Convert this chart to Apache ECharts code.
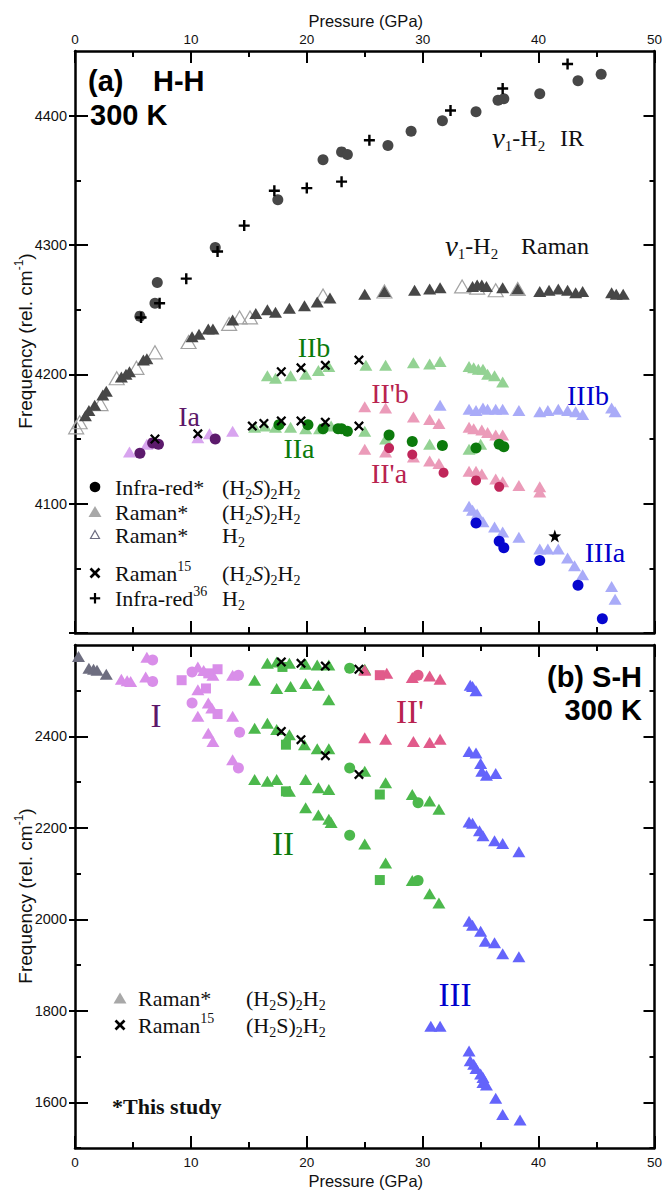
<!DOCTYPE html>
<html>
<head>
<meta charset="utf-8">
<script src="https://cdn.jsdelivr.net/npm/echarts@6/dist/echarts.min.js"></script>
<style>
  html, body { margin: 0; padding: 0; background: #fff; }
  #chart { width: 665px; height: 1190px; }
</style>
</head>
<body>
<div id="chart"></div>
<script>
// ---------- Panel (a): H-H stretching region, [pressure GPa, frequency cm-1] ----------
const nu1IrSample = [[5.6,4245],[6.9,4255],[7.1,4271],[12.1,4298],[17.5,4335],[21.4,4366],[23.0,4372],[23.5,4370],[27.0,4377],[29.0,4388],[31.7,4396],[34.6,4403],[36.5,4412],[37.0,4413],[40.1,4417],[43.4,4427],[45.4,4432]];
const nu1IrRef36 = [[5.7,4244],[7.3,4255],[9.6,4274],[12.3,4295],[14.6,4315],[17.2,4342],[20.0,4344],[23.0,4349],[25.4,4381],[32.4,4404],[36.9,4421],[42.5,4440]];
const nu1RamanSample = [[0.9,4168],[1.2,4172],[1.7,4176],[2.4,4184],[2.7,4187],[4.0,4198],[4.4,4200],[4.7,4202],[5.9,4211],[6.2,4212],[10.1,4229],[10.7,4231],[11.5,4235],[11.9,4235],[13.6,4242],[15.6,4247],[16.6,4250],[17.3,4248],[18.5,4251],[19.8,4253],[20.9,4256],[22.0,4259],[25.0,4262],[26.7,4264],[29.3,4265],[30.6,4266],[31.5,4267],[34.3,4268],[34.7,4269],[35.1,4269],[35.5,4268],[36.9,4267],[38.2,4266],[40.1,4264],[40.9,4265],[41.7,4266],[42.5,4265],[43.2,4263],[43.8,4264],[46.3,4263],[46.7,4262],[47.3,4262]];
const nu1RamanPureH2 = [[0.1,4159],[0.4,4163],[2.2,4177],[3.6,4197],[5.3,4205],[6.9,4217],[9.8,4225],[13.3,4239],[14.2,4244],[15.1,4244],[21.4,4261],[26.7,4264],[33.4,4268],[34.7,4267],[36.3,4265],[38.2,4266]];
const IaRaman = [[4.7,4140],[6.2,4146],[6.6,4147],[10.6,4151],[11.6,4154],[13.6,4156]];
const IaIr = [[5.6,4139],[6.7,4147],[7.2,4146],[12.1,4150]];
const IIbRaman = [[16.6,4199],[17.3,4197],[18.6,4199],[19.9,4200],[21.0,4203],[21.9,4206],[25.1,4207],[26.8,4207],[29.2,4209],[30.6,4208],[31.5,4210],[34.0,4206],[34.4,4205],[34.8,4204],[35.2,4204],[35.6,4200],[36.2,4199],[36.9,4194]];
const IIaRaman = [[15.5,4159],[16.4,4160],[17.3,4159],[18.6,4159],[19.9,4158],[21.1,4158],[22.1,4160],[25.0,4156],[26.8,4150],[30.6,4146],[34.0,4142],[35.0,4146]];
const IIaIr = [[17.6,4161],[20.1,4161],[21.4,4158],[22.7,4158],[23.0,4158],[23.5,4156],[27.1,4153],[29.1,4148],[31.7,4145],[34.6,4143],[36.6,4146],[37.0,4144]];
const IIpbRaman = [[25.0,4175],[26.8,4174],[29.2,4167],[30.6,4165],[31.4,4162],[34.0,4159],[34.4,4158],[35.1,4157],[35.6,4155],[36.3,4153],[36.9,4153]];
const IIpaRaman = [[25.0,4142],[26.8,4140],[29.2,4136],[30.6,4133],[31.4,4131],[34.0,4125],[34.6,4125],[35.1,4123],[36.3,4119],[36.9,4117],[38.3,4114],[40.1,4113],[40.1,4109]];
const IIpaIr = [[27.1,4143],[29.1,4138],[31.8,4124],[34.6,4118],[36.6,4113]];
const IIIbRaman = [[31.5,4176],[34.0,4173],[34.6,4172],[35.2,4174],[35.6,4173],[36.3,4173],[36.9,4173],[38.3,4172],[40.1,4171],[40.8,4172],[41.7,4173],[42.5,4172],[43.2,4171],[43.8,4169],[46.3,4174],[46.6,4171]];
const IIIaRaman = [[34.0,4098],[34.3,4095],[34.7,4092],[35.2,4086],[36.2,4082],[36.9,4078],[38.3,4074],[40.1,4065],[40.8,4065],[41.7,4065],[42.5,4058],[43.1,4052],[43.8,4045],[46.3,4036],[46.6,4026]];
const IIIaIr = [[34.6,4085],[36.6,4071],[37.0,4066],[40.1,4056],[43.4,4037],[45.5,4011]];
const IIIaStar = [[41.4,4075]];
const raman15HH = [[6.9,4150],[10.6,4154],[15.3,4160],[16.3,4162],[17.8,4164],[19.5,4164],[21.6,4163],[24.5,4160],[17.8,4202],[19.5,4205],[21.6,4207],[24.5,4211]];

// ---------- Panel (b): S-H stretching region ----------
const lowPRaman = [[0.3,2575],[1.2,2549],[1.6,2547],[1.9,2545],[2.7,2536]];
const IRamanTri = [[4.0,2525],[4.5,2522],[4.8,2520],[6.2,2573],[6.1,2530],[10.6,2552],[11.1,2544],[11.9,2534],[10.6,2502],[11.5,2473],[11.8,2462],[10.6,2444],[13.6,2444],[11.5,2407],[11.9,2389],[13.6,2349],[13.6,2534]];
const IRamanCirc = [[6.7,2567],[6.7,2520],[10.1,2541],[10.1,2473],[14.1,2534],[14.2,2409],[14.1,2331]];
const IRamanSq = [[9.2,2523],[11.3,2505],[12.3,2547],[12.3,2449],[11.5,2538]];
const IIRamanTri = [[16.6,2560],[17.4,2563],[18.5,2560],[19.9,2558],[20.9,2556],[21.9,2556],[25.0,2547],
  [15.5,2523],[17.4,2505],[18.6,2509],[19.9,2516],[21.0,2512],[21.9,2480],
  [15.5,2418],[16.6,2429],[17.4,2415],[18.5,2404],[19.8,2382],[20.9,2373],[21.9,2373],[25.0,2324],[26.8,2299],
  [15.5,2306],[16.6,2302],[17.4,2306],[18.5,2280],[19.9,2306],[21.0,2288],[21.9,2284],[29.1,2273],[30.6,2259],[31.4,2241],
  [19.9,2244],[21.0,2228],[21.9,2219],[22.1,2212],[25.0,2165],[26.8,2123],[29.1,2085],[30.6,2056],[31.4,2036]];
const IIRamanCirc = [[23.7,2549],[23.7,2331],[29.6,2255],[23.7,2184],[29.6,2085]];
const IIRamanSq = [[17.9,2552],[18.2,2382],[18.2,2280],[26.3,2273],[26.3,2086]];
const IIpRamanTri = [[25.0,2545],[26.9,2538],[29.1,2529],[30.6,2532],[31.5,2525],[25.0,2397],[26.8,2394],[29.2,2389],[30.6,2387],[31.5,2394]];
const IIpRamanSq = [[26.3,2534]];
const IIpRamanCirc = [[29.6,2534]];
const IIIRamanTri = [[34.1,2512],[34.3,2509],[34.6,2500],[34.0,2367],[34.6,2364],[35.0,2341],[35.1,2324],[35.5,2315],[36.3,2319],
  [34.0,2213],[34.3,2210],[34.9,2194],[35.2,2183],[36.2,2172],[36.9,2166],[38.3,2148],
  [34.0,1996],[34.3,1987],[35.0,1974],[35.4,1952],[36.2,1949],[36.9,1925],[38.3,1918],
  [30.7,1766],[31.5,1766],[34.0,1712],[34.1,1691],[34.4,1683],[34.6,1674],[35.0,1662],[35.2,1654],[35.2,1643],[35.5,1638],[36.3,1609],[36.9,1573],[38.4,1561]];
const raman15SH = [[17.8,2563],[19.5,2560],[21.6,2554],[24.5,2547],[17.8,2411],[19.5,2393],[21.6,2358],[24.5,2317]];

// ---------- axis ranges and tick positions ----------
const pressureRange = [0, 50];
const hhRange = [4000, 4450];
const hhMajor = [4000, 4100, 4200, 4300, 4400];
const hhLabels = [4100, 4200, 4300, 4400];
const hhMinor = [4050, 4150, 4250, 4350];
const shRange = [1500, 2600];
const shMajor = [1600, 1800, 2000, 2200, 2400];
const shLabels = [1600, 1800, 2000, 2200, 2400];
const shMinor = [1500, 1700, 1900, 2100, 2300, 2500];

const SANS = 'Liberation Sans';
const SERIF = 'Liberation Serif';
const INK = '#000';

const CROSS = 'path://M0,1.6L1.6,0L5,3.4L8.4,0L10,1.6L6.6,5L10,8.4L8.4,10L5,6.6L1.6,10L0,8.4L3.4,5Z';
const PLUS = 'path://M3.9,0H6.1V3.9H10V6.1H6.1V10H3.9V6.1H0V3.9H3.9Z';
const STAR = 'path://M10,0L12.35,6.76L19.51,6.91L13.8,11.24L15.88,18.09L10,14L4.12,18.09L6.2,11.24L0.49,6.91L7.65,6.76Z';

const plainNumber = function (v) { return String(v); };

function xAxisDef(grid, position, withLabels) {
  return {
    type: 'value', gridIndex: grid, position: position,
    min: pressureRange[0], max: pressureRange[1], interval: 10,
    axisLine: { show: true, onZero: false, lineStyle: { color: INK, width: 2.5 } },
    axisTick: { show: true, inside: true, length: 12, lineStyle: { color: INK, width: 2 } },
    minorTick: { show: true, splitNumber: 2, length: 6, lineStyle: { color: INK, width: 2 } },
    axisLabel: { show: withLabels, margin: position === 'top' ? 5 : 7, color: '#111',
      fontFamily: SANS, fontSize: 13.5, formatter: plainNumber },
    splitLine: { show: false }
  };
}

function yAxisDef(grid, position, range, opts) {
  const ax = {
    type: 'value', gridIndex: grid, position: position,
    min: range[0], max: range[1],
    axisLine: { show: !!opts.line, onZero: false, lineStyle: { color: INK, width: 2.5 } },
    axisTick: { show: true, inside: !!opts.inside, length: opts.len, customValues: opts.ticks,
      lineStyle: { color: INK, width: 2 } },
    axisLabel: { show: false },
    splitLine: { show: false }
  };
  if (opts.labels) {
    ax.axisLabel = { show: true, customValues: opts.labels, margin: 8, color: '#111',
      fontFamily: SANS, fontSize: 14.5, formatter: plainNumber };
  }
  return ax;
}

const xAxes = [
  xAxisDef(0, 'top', true),
  xAxisDef(0, 'bottom', false),
  xAxisDef(1, 'top', false),
  xAxisDef(1, 'bottom', true)
];
const yAxes = [
  yAxisDef(0, 'left', hhRange, { line: true, inside: true, len: 13, ticks: hhMajor, labels: hhLabels }),
  yAxisDef(0, 'left', hhRange, { inside: false, len: 6, ticks: hhMajor }),
  yAxisDef(0, 'left', hhRange, { inside: true, len: 6, ticks: hhMinor }),
  yAxisDef(0, 'right', hhRange, { line: true, inside: true, len: 11, ticks: hhMajor }),
  yAxisDef(0, 'right', hhRange, { inside: true, len: 5, ticks: hhMinor }),
  yAxisDef(1, 'left', shRange, { line: true, inside: true, len: 13, ticks: shMajor, labels: shLabels }),
  yAxisDef(1, 'left', shRange, { inside: false, len: 6, ticks: shMajor }),
  yAxisDef(1, 'left', shRange, { inside: true, len: 6, ticks: shMinor }),
  yAxisDef(1, 'right', shRange, { line: true, inside: true, len: 11, ticks: shMajor }),
  yAxisDef(1, 'right', shRange, { inside: true, len: 5, ticks: shMinor })
];

const TRI = [13, 11];
function pts(panel, data, symbol, size, color, z, extraStyle) {
  return {
    type: 'scatter', xAxisIndex: panel === 0 ? 1 : 3, yAxisIndex: panel === 0 ? 0 : 5,
    data: data, symbol: symbol, symbolSize: size, z: z, silent: true,
    itemStyle: Object.assign({ color: color, opacity: 1 }, extraStyle || {})
  };
}

const C = {
  dark: '#474747', openEdge: '#a3a3a3',
  violetLight: '#d8a4ef', purple: '#5c1a6c',
  greenLight: '#93d293', green: '#0c7a0c',
  pinkLight: '#eb9bb9', crimson: '#c0265a',
  blueLight: '#a9abf8', blue: '#0606cf',
  greyB: '#6e6e80', violetB: '#d98ee9', greenB: '#4cb84c', pinkB: '#e15b8b', blueB: '#6464fb',
  labPurple: '#5c1769', labGreen: '#0b7a0b', labCrimson: '#b8234f', labBlue: '#0000cc'
};

const series = [
  // panel (a)
  pts(0, nu1RamanPureH2, 'triangle', [15, 13], 'rgba(0,0,0,0)', 2, { borderColor: C.openEdge, borderWidth: 1.2 }),
  pts(0, nu1RamanSample, 'triangle', TRI, C.dark, 3),
  pts(0, IaRaman, 'triangle', TRI, C.violetLight, 3),
  pts(0, IIbRaman, 'triangle', TRI, C.greenLight, 3),
  pts(0, IIaRaman, 'triangle', TRI, C.greenLight, 3),
  pts(0, IIpbRaman, 'triangle', TRI, C.pinkLight, 3),
  pts(0, IIpaRaman, 'triangle', TRI, C.pinkLight, 3),
  pts(0, IIIbRaman, 'triangle', TRI, C.blueLight, 3),
  pts(0, IIIaRaman, 'triangle', TRI, C.blueLight, 3),
  pts(0, nu1IrSample, 'circle', 11, C.dark, 4),
  pts(0, IaIr, 'circle', 11, C.purple, 4),
  pts(0, IIaIr, 'circle', 11, C.green, 4),
  pts(0, IIpaIr, 'circle', 10, C.crimson, 4),
  pts(0, IIIaIr, 'circle', 11, C.blue, 4),
  pts(0, IIIaStar, STAR, 13, '#000', 5),
  pts(0, raman15HH, CROSS, 10, '#000', 6),
  pts(0, nu1IrRef36, PLUS, 11, '#000', 6),
  // panel (b)
  pts(1, lowPRaman, 'triangle', TRI, C.greyB, 3),
  pts(1, IRamanTri, 'triangle', TRI, C.violetB, 3),
  pts(1, IRamanCirc, 'circle', 11, C.violetB, 3),
  pts(1, IRamanSq, 'rect', 10, C.violetB, 3),
  pts(1, IIRamanTri, 'triangle', TRI, C.greenB, 3),
  pts(1, IIRamanCirc, 'circle', 11, C.greenB, 3),
  pts(1, IIRamanSq, 'rect', 10, C.greenB, 3),
  pts(1, IIpRamanTri, 'triangle', TRI, C.pinkB, 3),
  pts(1, IIpRamanSq, 'rect', 10, C.pinkB, 3),
  pts(1, IIpRamanCirc, 'circle', 11, C.pinkB, 3),
  pts(1, IIIRamanTri, 'triangle', TRI, C.blueB, 3),
  pts(1, raman15SH, CROSS, 10, '#000', 6)
];

// ---------- text annotations ----------
function richSet(fs, family, color) {
  const lh = Math.round(fs * 1.25);
  const small = Math.round(fs * 0.64);
  return {
    n: { fontSize: fs, fontFamily: family, fill: color, lineHeight: lh },
    i: { fontSize: fs, fontFamily: family, fill: color, lineHeight: lh, fontStyle: 'italic' },
    nu: { fontSize: Math.round(fs * 1.2), fontFamily: family, fill: color, lineHeight: lh, fontStyle: 'italic' },
    b: { fontSize: fs, fontFamily: family, fill: color, lineHeight: lh, fontWeight: 'bold' },
    s: { fontSize: small, fontFamily: family, fill: color, lineHeight: small, verticalAlign: 'bottom' },
    p: { fontSize: small, fontFamily: family, fill: color, lineHeight: small, verticalAlign: 'top' }
  };
}
function label(x, y, text, fs, family, color, align, weight, rotation) {
  return {
    type: 'text', x: x, y: y, z: 100, silent: true, rotation: rotation || 0,
    style: {
      text: text, fill: color, fontSize: fs, fontFamily: family, fontWeight: weight || 'normal',
      align: align || 'center', verticalAlign: 'middle',
      textAlign: align || 'center', textVerticalAlign: 'middle',
      rich: richSet(fs, family, color)
    }
  };
}
function line(x1, y1, x2, y2, w) {
  return { type: 'line', z: 100, silent: true, shape: { x1: x1, y1: y1, x2: x2, y2: y2 }, style: { stroke: '#000', lineWidth: w } };
}

const freqTitle = '{n|Frequency (rel. cm}{p|-1}{n|)}';
const graphics = [
  // axis titles
  label(365.75, 21, 'Pressure (GPa)', 16.5, SANS, '#111'),
  label(365.75, 1181, 'Pressure (GPa)', 16.5, SANS, '#111'),
  label(25, 341, freqTitle, 19, SANS, '#111', 'center', 'normal', Math.PI / 2),
  label(25, 896, freqTitle, 19, SANS, '#111', 'center', 'normal', Math.PI / 2),
  // panel titles
  label(88, 81, '(a)', 29, SANS, '#000', 'left', 'bold'),
  label(153, 81, 'H-H', 29, SANS, '#000', 'left', 'bold'),
  label(90, 115, '300 K', 29, SANS, '#000', 'left', 'bold'),
  label(642, 677, '(b) S-H', 29, SANS, '#000', 'right', 'bold'),
  label(642, 710, '300 K', 29, SANS, '#000', 'right', 'bold'),
  // mode labels, panel (a)
  label(492, 138, '{nu|ν}{s|1}{n|-H}{s|2}', 24, SERIF, '#111', 'left'),
  label(560, 138, 'IR', 24, SERIF, '#111', 'left'),
  label(445, 246, '{nu|ν}{s|1}{n|-H}{s|2}', 24, SERIF, '#111', 'left'),
  label(521, 246, 'Raman', 24, SERIF, '#111', 'left'),
  label(189, 416, 'Ia', 28, SERIF, C.labPurple),
  label(314, 347, 'IIb', 28, SERIF, C.labGreen),
  label(299, 448, 'IIa', 28, SERIF, C.labGreen),
  label(390, 393, "II'b", 28, SERIF, C.labCrimson),
  label(389, 473, "II'a", 28, SERIF, C.labCrimson),
  label(588, 395, 'IIIb', 28, SERIF, C.labBlue),
  label(605, 552, 'IIIa', 28, SERIF, C.labBlue),
  // mode labels, panel (b)
  label(156, 716, 'I', 33, SERIF, C.labPurple),
  label(283, 844, 'II', 33, SERIF, C.labGreen),
  label(410, 712, "II'", 33, SERIF, C.labCrimson),
  label(455, 995, 'III', 33, SERIF, C.labBlue),
  // legend, panel (a)
  { type: 'circle', z: 100, silent: true, shape: { cx: 95, cy: 487, r: 5.3 }, style: { fill: '#000' } },
  { type: 'polygon', z: 100, silent: true, shape: { points: [[95, 506], [101.5, 517], [88.5, 517]] }, style: { fill: '#a8a8a8' } },
  { type: 'polygon', z: 100, silent: true, shape: { points: [[95, 530.5], [99.5, 538.5], [90.5, 538.5]] }, style: { fill: '#fff', stroke: '#6c6c80', lineWidth: 1.2 } },
  line(90.5, 568.5, 99.5, 577.5, 2.6), line(99.5, 568.5, 90.5, 577.5, 2.6),
  line(95, 593, 95, 603.5, 2.2), line(89.8, 598.3, 100.2, 598.3, 2.2),
  label(115, 487, 'Infra-red*', 22, SERIF, '#111', 'left'),
  label(115, 512, 'Raman*', 22, SERIF, '#111', 'left'),
  label(115, 535, 'Raman*', 22, SERIF, '#111', 'left'),
  label(115, 573, '{n|Raman}{p|15}', 22, SERIF, '#111', 'left'),
  label(115, 598, '{n|Infra-red}{p|36}', 22, SERIF, '#111', 'left'),
  label(222, 487, '{n|(H}{s|2}{i|S}{n|)}{s|2}{n|H}{s|2}', 22, SERIF, '#111', 'left'),
  label(222, 512, '{n|(H}{s|2}{i|S}{n|)}{s|2}{n|H}{s|2}', 22, SERIF, '#111', 'left'),
  label(222, 535, '{n|H}{s|2}', 22, SERIF, '#111', 'left'),
  label(222, 573, '{n|(H}{s|2}{i|S}{n|)}{s|2}{n|H}{s|2}', 22, SERIF, '#111', 'left'),
  label(222, 598, '{n|H}{s|2}', 22, SERIF, '#111', 'left'),
  // legend, panel (b)
  { type: 'polygon', z: 100, silent: true, shape: { points: [[120, 992.5], [126.5, 1003.5], [113.5, 1003.5]] }, style: { fill: '#a8a8a8' } },
  line(115.5, 1020.5, 124.5, 1029.5, 2.6), line(124.5, 1020.5, 115.5, 1029.5, 2.6),
  label(138, 998, 'Raman*', 22, SERIF, '#111', 'left'),
  label(138, 1025, '{n|Raman}{p|15}', 22, SERIF, '#111', 'left'),
  label(246, 998, '{n|(H}{s|2}{n|S)}{s|2}{n|H}{s|2}', 22, SERIF, '#111', 'left'),
  label(246, 1025, '{n|(H}{s|2}{n|S)}{s|2}{n|H}{s|2}', 22, SERIF, '#111', 'left'),
  label(112, 1106, '{b|*This study}', 22, SERIF, '#111', 'left', 'bold')
];

const chart = echarts.init(document.getElementById('chart'), null, { renderer: 'svg' });
chart.setOption({
  animation: false,
  backgroundColor: '#fff',
  grid: [
    { left: 75, top: 51, width: 581.5, height: 582 },
    { left: 75, top: 645, width: 581.5, height: 503 }
  ],
  xAxis: xAxes,
  yAxis: yAxes,
  series: series,
  graphic: { elements: graphics }
});
</script>
</body>
</html>
